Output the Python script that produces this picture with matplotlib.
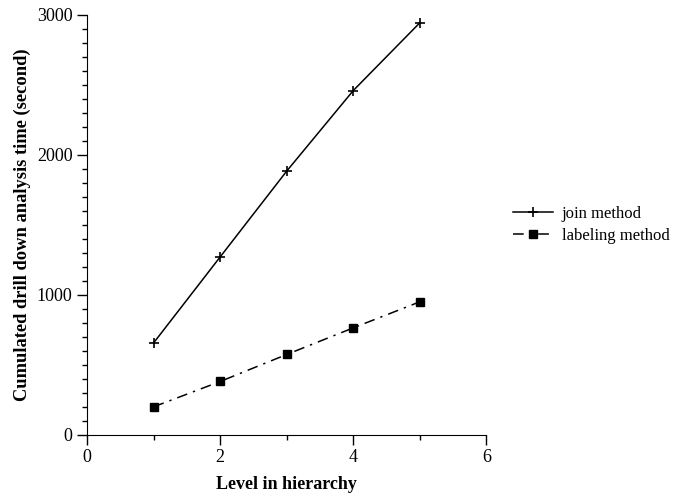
import matplotlib
matplotlib.use('Agg')
import matplotlib.pyplot as plt
from matplotlib.ticker import MultipleLocator

plt.rcParams['font.family'] = ['Liberation Serif', 'DejaVu Serif']

# Data
levels = [1, 2, 3, 4, 5]
join_time = [657, 1271, 1884, 2459, 2943]
labeling_time = [200, 381, 574, 764, 950]

fig = plt.figure(figsize=(6.86, 4.93), dpi=100)
ax = fig.add_axes([0.127, 0.118, 0.582, 0.852])

ax.plot(levels, join_time, color='black', linewidth=1.1, marker='+',
        markersize=7, markeredgewidth=1.2, label='join method')
ax.plot(levels, labeling_time, color='black', linewidth=1.1,
        linestyle=(0, (7, 4, 1.5, 4)), marker='s', markersize=5.5,
        label='labeling method')

ax.set_xlim(0, 6)
ax.set_ylim(0, 3000)
ax.xaxis.set_major_locator(MultipleLocator(2))
ax.xaxis.set_minor_locator(MultipleLocator(1))
ax.yaxis.set_major_locator(MultipleLocator(1000))
ax.yaxis.set_minor_locator(MultipleLocator(100))

ax.spines['top'].set_visible(False)
ax.spines['right'].set_visible(False)
ax.tick_params(which='major', length=7, width=1, labelsize=13, direction='out')
ax.tick_params(which='minor', length=3.5, width=1, direction='out')

ax.set_xlabel('Level in hierarchy', fontsize=13, fontweight='bold', labelpad=7)
ax.set_ylabel('Cumulated drill down analysis time (second)', fontsize=13.3,
              fontweight='bold')

ax.legend(loc='center left', bbox_to_anchor=(1.03, 0.5), frameon=False,
          fontsize=12, handlelength=2.4, handletextpad=0.5, labelspacing=0.35)

fig.savefig('out.png', dpi=100)
